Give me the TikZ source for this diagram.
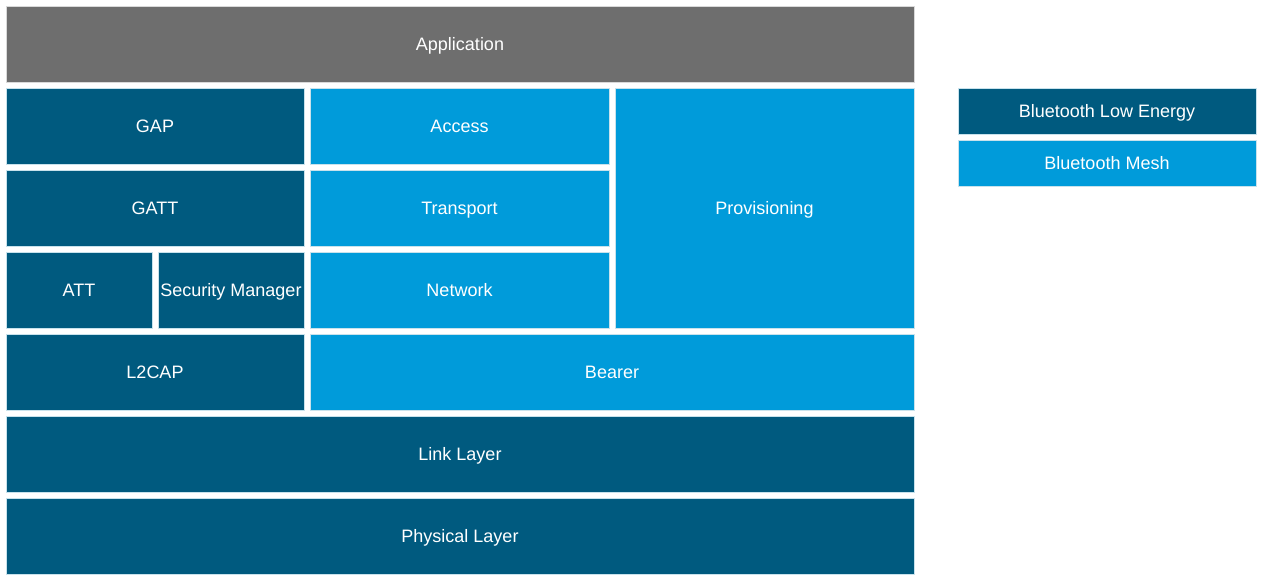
\documentclass[tikz,border=0pt]{standalone}
\usepackage{fontspec}
\setmainfont{Liberation Sans}
\definecolor{appgray}{HTML}{6E6E6E}
\definecolor{bledark}{HTML}{005A7F}
\definecolor{meshlight}{HTML}{009BDA}
\definecolor{edgelight}{HTML}{C8E2EC}
\tikzset{
  layer/.style={draw=edgelight, line width=0.5pt, text=white, inner sep=0pt,
    minimum height=76pt, text height=13pt, text depth=0pt,
    font=\fontsize{18}{20}\selectfont},
  app/.style={layer, fill=appgray, draw=black!15},
  ble/.style={layer, fill=bledark},
  mesh/.style={layer, fill=meshlight},
}
\begin{document}
\begin{tikzpicture}[x=1pt,y=-1pt]
\useasboundingbox (0,0) rectangle (1263,580);
\node[app, minimum width=908pt] (application) at (460,44) {Application};
\node[ble, minimum width=298pt] (gap) at (155,126) {GAP};
\node[mesh, minimum width=299pt] (access) at (459.5,126) {Access};
\node[mesh, minimum width=299pt, minimum height=240pt] (provisioning) at (764.5,208) {Provisioning};
\node[ble, minimum width=298pt] (gatt) at (155,208) {GATT};
\node[mesh, minimum width=299pt] (transport) at (459.5,208) {Transport};
\node[ble, minimum width=146pt] (att) at (79,290) {ATT};
\node[ble, minimum width=146pt] (sm) at (231,290) {Security Manager};
\node[mesh, minimum width=299pt] (network) at (459.5,290) {Network};
\node[ble, minimum width=298pt] (l2cap) at (155,372) {L2CAP};
\node[mesh, minimum width=604pt] (bearer) at (612,372) {Bearer};
\node[ble, minimum width=908pt] (link) at (460,454) {Link Layer};
\node[ble, minimum width=908pt] (phy) at (460,536) {Physical Layer};
% legend
\node[ble, minimum width=298pt, minimum height=46pt] (keyble) at (1107,111) {Bluetooth Low Energy};
\node[mesh, minimum width=298pt, minimum height=46pt] (keymesh) at (1107,163) {Bluetooth Mesh};
\end{tikzpicture}
\end{document}
